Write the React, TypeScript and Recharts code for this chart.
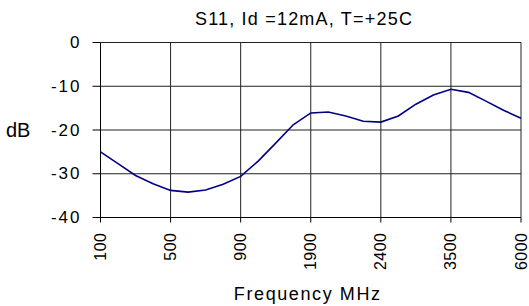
import { LineChart, Line, XAxis, YAxis, CartesianGrid } from 'recharts'

// frequency labels shown on the category axis (one every 4 points)
const freqLabels = ['100', '500', '900', '1900', '2400', '3500', '6000']
const pointsPerLabel = 4

// S11 in dB
const s11 = [
  -25.0, -27.7, -30.4, -32.3,
  -33.8, -34.2, -33.7, -32.4,
  -30.6, -27.1, -23.0, -18.8,
  -16.1, -15.9, -16.8, -18.0,
  -18.2, -16.8, -14.1, -12.0,
  -10.7, -11.4, -13.4, -15.5,
  -17.3,
]

const yTicks = [0, -10, -20, -30, -40]

const data = s11.map((v, i) => ({ i, s11: v }))
const xTicks = freqLabels.map((_, k) => k * pointsPerLabel)

const font = '"Liberation Sans", Arial, sans-serif'

const YTick = ({ x, y, payload }: any) => (
  <text x={x} y={y} textAnchor="end" dominantBaseline="central" fontSize={17} letterSpacing={2} fill="#000" fontFamily={font}>
    {payload.value}
  </text>
)

const XTick = ({ x, y, payload }: any) => (
  <text
    x={x}
    y={y}
    transform={`rotate(-90 ${x} ${y})`}
    textAnchor="end"
    dominantBaseline="central"
    fontSize={16}
    letterSpacing={0.5}
    fill="#000"
    fontFamily={font}
  >
    {freqLabels[payload.value / pointsPerLabel]}
  </text>
)

export default function App() {
  return (
    <div style={{ position: 'absolute', left: 0, top: 0, width: 529, height: 306, background: '#fff' }}>
      <svg width={529} height={40} style={{ position: 'absolute', left: 0, top: 0 }}>
        <text x={304} y={24.5} textAnchor="middle" fontSize={18} letterSpacing={1.2} fill="#000" fontFamily={font}>
          S11, Id =12mA, T=+25C
        </text>
      </svg>
      <LineChart width={529} height={306} data={data} margin={{ top: 42.5, right: 8, left: 0, bottom: 0 }}>
        <CartesianGrid stroke="#222" strokeWidth={1} />
        <XAxis
          dataKey="i"
          type="number"
          domain={[0, 24]}
          ticks={xTicks}
          interval={0}
          height={88.5}
          tickSize={5}
          tickMargin={10}
          tick={<XTick />}
          axisLine={{ stroke: '#000' }}
          tickLine={{ stroke: '#000' }}
          label={{ value: 'Frequency MHz', position: 'insideBottom', offset: 6, dx: -3, fontSize: 18, letterSpacing: 1.6, fill: '#000', fontFamily: font }}
        />
        <YAxis
          domain={[-40, 0]}
          ticks={yTicks}
          interval={0}
          width={100.5}
          tickSize={8}
          tickMargin={11}
          tick={<YTick />}
          axisLine={{ stroke: '#000' }}
          tickLine={{ stroke: '#000' }}
          label={{ value: 'dB', position: 'insideLeft', offset: 6, fontSize: 20, fill: '#000', fontFamily: font }}
        />
        <Line type="linear" dataKey="s11" stroke="#000080" strokeWidth={1.6} dot={false} isAnimationActive={false} />
      </LineChart>
    </div>
  )
}
